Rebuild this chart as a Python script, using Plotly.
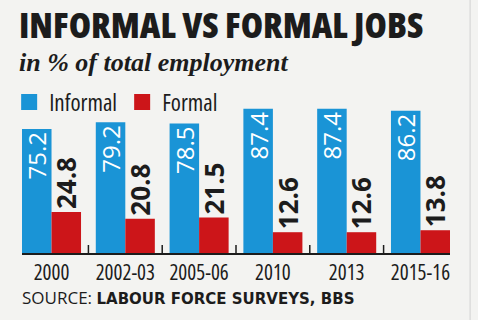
import plotly.graph_objects as go

categories = ["2000", "2002-03", "2005-06", "2010", "2013", "2015-16"]
informal = [75.2, 79.2, 78.5, 87.4, 87.4, 86.2]
formal = [24.8, 20.8, 21.5, 12.6, 12.6, 13.8]
series_names = ["Informal", "Formal"]

BLUE = "#1a94d6"
RED = "#cc1519"
INK = "#1c1c1c"
BG = "#f3f3f1"
SANS = "Open Sans, Liberation Sans, Arial, sans-serif"


def narrow(s, pct=75):
    return '<span style="font-stretch:%d%%">%s</span>' % (pct, s)


x_idx = list(range(len(categories)))

fig = go.Figure()
fig.add_trace(go.Bar(
    x=x_idx, y=informal, name=series_names[0], marker=dict(color=BLUE, line=dict(width=0)),
    text=[f"{v:.1f}" for v in informal], textposition="inside", insidetextanchor="end",
    textangle=-90, constraintext="none",
    textfont=dict(family=SANS, size=24, color="white"),
    showlegend=False, hoverinfo="skip",
))
fig.add_trace(go.Bar(
    x=x_idx, y=formal, name=series_names[1], marker=dict(color=RED, line=dict(width=0)),
    text=[f"{v:.1f}" for v in formal], textposition="outside",
    textangle=-90, constraintext="none", cliponaxis=False,
    textfont=dict(family=SANS, size=26, color=INK, weight="bold"),
    showlegend=False, hoverinfo="skip",
))
# legend entries
for nm, col in zip(series_names, [BLUE, RED]):
    fig.add_trace(go.Scatter(
        x=[None], y=[None], mode="markers", name=narrow(nm),
        marker=dict(symbol="square", size=16, color=col, line=dict(width=0)),
    ))

# separator ticks between groups
for i in range(len(categories) - 1):
    fig.add_shape(type="line", xref="x", yref="y", x0=i + 0.5, x1=i + 0.5,
                  ysizemode="pixel", yanchor=0, y0=-12, y1=8,
                  line=dict(color=INK, width=1.5))

# faint right border
fig.add_shape(type="line", xref="paper", yref="paper", x0=1.047, x1=1.047, y0=-0.5, y1=1.6,
              line=dict(color="#dcdcdc", width=1.5))

fig.add_annotation(xref="paper", yref="paper", x=-0.012, y=1.385, xanchor="left", yanchor="middle",
                   text='<span style="font-stretch:75%;font-weight:800">INFORMAL VS FORMAL JOBS</span>',
                   showarrow=False, font=dict(family=SANS, size=36, color=INK))
fig.add_annotation(xref="paper", yref="paper", x=-0.012, y=1.154, xanchor="left", yanchor="middle",
                   text="<b><i>in % of total employment</i></b>", showarrow=False,
                   font=dict(family="Liberation Serif, Times New Roman, serif", size=26, color=INK))
fig.add_annotation(xref="paper", yref="paper", x=-0.005, y=-0.267, xanchor="left", yanchor="middle",
                   text='SOURCE: <span style="font-family:DejaVu Sans;font-weight:bold;font-size:15px">'
                        'LABOUR FORCE SURVEYS, BBS</span>',
                   showarrow=False, font=dict(family=SANS, size=17, color=INK))

fig.update_layout(
    width=478, height=320,
    margin=dict(l=22, r=28, t=88, b=67, autoexpand=False),
    paper_bgcolor=BG, plot_bgcolor=BG,
    barmode="group", bargap=0.2, bargroupgap=0,
    showlegend=True,
    legend=dict(orientation="h", x=-0.03, y=0.915, xanchor="left", yanchor="middle",
                bgcolor="rgba(0,0,0,0)", borderwidth=0,
                font=dict(family=SANS, size=23, color=INK),
                entrywidth=68, itemclick=False),
    xaxis=dict(range=[-0.4, 5.4], tickmode="array", tickvals=x_idx,
               ticktext=[narrow(c) for c in categories], tickangle=0, automargin=False,
               showline=True, linecolor=INK, linewidth=2, showgrid=False, zeroline=False,
               ticks="", tickfont=dict(family=SANS, size=21, color=INK), fixedrange=True),
    yaxis=dict(range=[0, 100], visible=False, fixedrange=True),
)

fig.write_html("out.html")
